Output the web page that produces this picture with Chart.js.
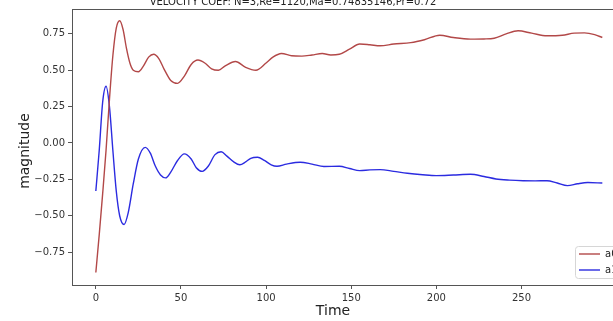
<!DOCTYPE html>
<html>
<head>
<meta charset="utf-8">
<script src="https://cdn.jsdelivr.net/npm/chart.js@4/dist/chart.umd.min.js"></script>
<style>
  html, body { margin: 0; padding: 0; background: #fff; }
  #wrap { width: 613px; height: 321px; overflow: hidden; position: relative; }
  canvas { display: block; }
</style>
</head>
<body>
<div id="wrap"><canvas id="chart" width="660" height="321"></canvas></div>
<script>
// Values
const chartTitle = 'VELOCITY COEF: N=3,Re=1120,Ma=0.74835146,Pr=0.72';
const seriesNames = ['a0', 'a1'];

const redTime = [0, 2, 4, 6, 8, 10, 12, 14, 16, 18, 20, 22, 25, 28, 31, 34, 37, 40, 44, 48,
    52, 56, 60, 64, 68, 72, 76, 82, 88, 94, 100, 104, 109, 115, 121, 127, 133, 138, 143, 149,
    155, 161, 167, 175, 185, 193, 202, 210, 220, 228, 234, 241, 248, 256, 265, 274, 281, 287, 293, 297.5];
const redMag = [-0.89, -0.63, -0.35, -0.05, 0.30, 0.60, 0.79, 0.84, 0.78, 0.65, 0.55, 0.50, 0.49, 0.53, 0.59, 0.61, 0.58, 0.51, 0.43, 0.41,
    0.46, 0.54, 0.57, 0.55, 0.51, 0.50, 0.53, 0.56, 0.52, 0.50, 0.55, 0.59, 0.615, 0.60, 0.597, 0.605, 0.615, 0.605, 0.61, 0.645,
    0.68, 0.675, 0.668, 0.68, 0.69, 0.71, 0.741, 0.725, 0.714, 0.715, 0.72, 0.75, 0.771, 0.755, 0.737, 0.741, 0.755, 0.757, 0.745, 0.725];

const blueTime = [0, 2, 4, 6, 8, 10, 12, 14, 16.6, 19, 22, 25, 29, 32, 35, 38, 41, 44, 48, 52,
    56, 59, 62.5, 66, 70, 73.6, 77, 81, 84.6, 88, 91, 95, 99, 103, 106.4, 112, 120, 127, 134, 143,
    149, 155, 161, 167, 175, 183, 192, 200, 210, 220, 228, 235, 243, 251, 258, 265, 271, 277, 283, 289, 297.5];
const blueMag = [-0.33, -0.05, 0.28, 0.39, 0.25, -0.05, -0.33, -0.50, -0.56, -0.48, -0.28, -0.11, -0.03, -0.07, -0.16, -0.22, -0.24, -0.20, -0.12, -0.075,
    -0.11, -0.17, -0.195, -0.16, -0.08, -0.06, -0.09, -0.13, -0.15, -0.13, -0.105, -0.098, -0.12, -0.15, -0.16, -0.145, -0.132, -0.145, -0.162, -0.16,
    -0.175, -0.19, -0.185, -0.183, -0.195, -0.208, -0.218, -0.224, -0.22, -0.215, -0.23, -0.247, -0.255, -0.259, -0.26, -0.259, -0.275, -0.293, -0.28, -0.272, -0.275];

const xTicks = [0, 50, 100, 150, 200, 250];
const yTicks = [-0.75, -0.5, -0.25, 0, 0.25, 0.5, 0.75];

const redColor = '#b24848';
const blueColor = '#2b2be0';
const frameColor = '#555';
const textColor = '#333';
const fontFamily = '"DejaVu Sans", sans-serif';

function toPoints(xs, ys) {
    return xs.map((x, i) => ({ x: x, y: ys[i] }));
}

function fmtY(v) {
    const s = Math.abs(v).toFixed(2);
    return v < 0 ? '\u2212' + s : s;
}

// Frame, titles and legend drawn like the matplotlib figure
const extras = {
    id: 'extras',
    afterDraw(chart) {
        const ctx = chart.ctx;
        const a = chart.chartArea;
        ctx.save();

        ctx.strokeStyle = frameColor;
        ctx.lineWidth = 1;
        ctx.strokeRect(a.left + 0.5, a.top + 0.5, a.right - a.left, a.bottom - a.top);

        ctx.fillStyle = '#222';
        ctx.font = '10px ' + fontFamily;
        ctx.textAlign = 'center';
        ctx.textBaseline = 'alphabetic';
        ctx.fillText(chartTitle, 293, 4.5);

        ctx.font = '14px ' + fontFamily;
        ctx.textBaseline = 'middle';
        ctx.fillText('Time', 333, 311);

        ctx.translate(25, 151);
        ctx.rotate(-Math.PI / 2);
        ctx.fillText('magnitude', 0, 0);
        ctx.setTransform(1, 0, 0, 1, 0, 0);

        // legend box in the lower right corner
        const lx = 575.5, ly = 246.5, lw = 48, lh = 32;
        ctx.fillStyle = 'rgba(255,255,255,0.85)';
        ctx.strokeStyle = '#d6d6d6';
        ctx.beginPath();
        ctx.roundRect(lx, ly, lw, lh, 3);
        ctx.fill();
        ctx.stroke();

        const cols = [redColor, blueColor];
        const rows = [254, 270];
        ctx.font = '10px ' + fontFamily;
        ctx.textAlign = 'left';
        ctx.textBaseline = 'middle';
        rows.forEach((ry, i) => {
            ctx.strokeStyle = cols[i];
            ctx.lineWidth = 1.4;
            ctx.beginPath();
            ctx.moveTo(579, ry);
            ctx.lineTo(600, ry);
            ctx.stroke();
            ctx.fillStyle = '#222';
            ctx.fillText(seriesNames[i], 605, ry);
        });

        ctx.restore();
    }
};

const ctx = document.getElementById('chart').getContext('2d');
new Chart(ctx, {
    type: 'line',
    data: {
        datasets: [{
            label: seriesNames[0],
            data: toPoints(redTime, redMag),
            borderColor: redColor,
            borderWidth: 1.4,
            pointRadius: 0,
            fill: false,
            cubicInterpolationMode: 'monotone'
        }, {
            label: seriesNames[1],
            data: toPoints(blueTime, blueMag),
            borderColor: blueColor,
            borderWidth: 1.4,
            pointRadius: 0,
            fill: false,
            cubicInterpolationMode: 'monotone'
        }]
    },
    options: {
        responsive: false,
        animation: false,
        devicePixelRatio: 1,
        layout: { padding: { left: 0, top: 8, right: 33, bottom: 0 } },
        plugins: {
            legend: { display: false },
            tooltip: { enabled: false }
        },
        scales: {
            x: {
                type: 'linear',
                min: -14,
                max: 312,
                afterBuildTicks: scale => { scale.ticks = xTicks.map(v => ({ value: v })); },
                afterFit: scale => { scale.height = 36; },
                grid: { drawOnChartArea: false, drawTicks: true, tickLength: 4, color: frameColor },
                border: { display: false },
                ticks: {
                    color: textColor,
                    padding: 3,
                    maxRotation: 0,
                    font: { family: fontFamily, size: 10 }
                }
            },
            y: {
                type: 'linear',
                min: -0.976,
                max: 0.921,
                afterBuildTicks: scale => { scale.ticks = yTicks.map(v => ({ value: v })); },
                afterFit: scale => { scale.width = 72; },
                grid: { drawOnChartArea: false, drawTicks: true, tickLength: 4, color: frameColor },
                border: { display: false },
                ticks: {
                    color: textColor,
                    padding: 3,
                    font: { family: fontFamily, size: 10 },
                    callback: v => fmtY(v)
                }
            }
        }
    },
    plugins: [extras]
});
</script>
</body>
</html>
